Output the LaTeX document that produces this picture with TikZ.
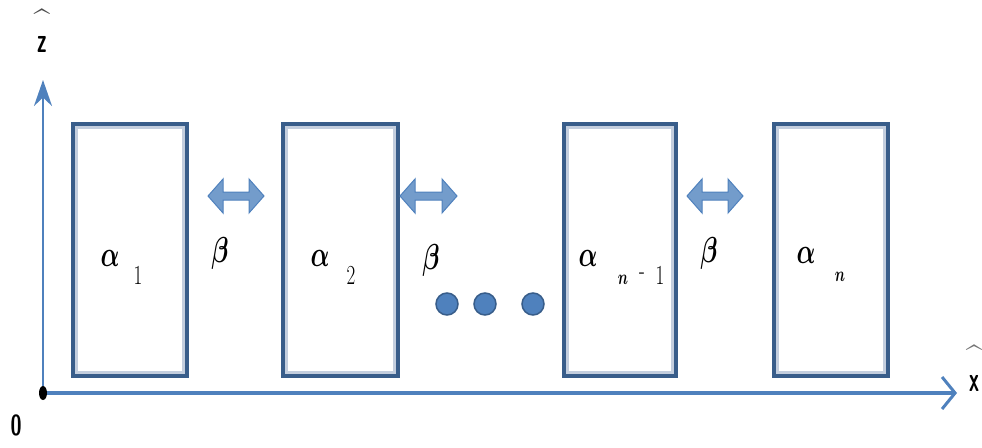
\documentclass[tikz,border=0pt]{standalone}
\usetikzlibrary{arrows.meta,shapes.geometric}
\definecolor{boxdark}{HTML}{385D8A}
\definecolor{boxlight}{HTML}{C3CEDE}
\definecolor{axisblue}{HTML}{4F81BD}
\definecolor{arrowfill}{HTML}{739CCB}
\tikzset{
  cell/.style={draw=boxdark, line width=4pt},
  cellshade/.style={draw=boxlight, line width=3pt},
  bigtxt/.style={inner sep=0pt, font=\fontsize{33}{33}\selectfont\boldmath},
  betatxt/.style={inner sep=0pt, font=\fontsize{36}{36}\selectfont\boldmath},
  subtxt/.style={inner sep=0pt, font=\fontsize{19}{19}\selectfont},
  tinytxt/.style={inner sep=0pt, font=\fontsize{14}{14}\selectfont\boldmath},
  axislbl/.style={inner sep=0pt, font=\fontsize{20}{20}\selectfont\sffamily\bfseries},
  hatlbl/.style={inner sep=0pt, font=\fontsize{16}{16}\selectfont\bfseries},
  dot/.style={circle, fill=axisblue, draw=boxdark, line width=1.5pt, minimum size=22pt, inner sep=0pt},
  dblarrow/.style={fill=arrowfill, draw=axisblue, line width=1pt, line join=miter},
}
\newcommand{\vstr}[1]{\scalebox{1}[1.45]{#1}}
\newcommand{\zstr}[1]{\scalebox{1}[1.75]{#1}}
\newcommand{\hatglyph}{\raisebox{-14pt}[9pt][0pt]{\scalebox{1.8}[2]{\textasciicircum}}}
\newcommand{\dbl}[3]{% x-left, x-right, y
  \path[dblarrow] (#1,#3) -- (#1+15,#3-17) -- (#1+15,#3-4) -- (#2-15,#3-4) -- (#2-15,#3-17) -- (#2,#3)
     -- (#2-15,#3+17) -- (#2-15,#3+4) -- (#1+15,#3+4) -- (#1+15,#3+17) -- cycle;}
\begin{document}
\begin{tikzpicture}[x=1pt,y=-1pt]
\useasboundingbox (0,0) rectangle (982,447);
% boxes
\foreach \l/\r/\n in {71/189/b1, 281/400/b2, 562/678/b3, 772/890/b4}{
  \draw[cellshade] (\l+5.5,127.5) rectangle (\r-5.5,372.5);
  \draw[cell] (\l+2,124) rectangle (\r-2,376) node[pos=0, inner sep=0pt] (\n) {};
}
% axes
\coordinate (O) at (43,393);
\coordinate (xend) at (957,393);
\coordinate (zend) at (43,80);
\draw[axisblue, line width=4pt, -{Straight Barb[length=13pt,width=32pt,line width=3pt]}] (O) -- (xend);
\draw[axisblue, line width=2.5pt, -{Stealth[length=26pt,width=18pt]}] (O) -- (zend);
\node[ellipse, fill=black, minimum width=8pt, minimum height=14pt, inner sep=0pt] (odot) at (O) {};
% axis labels
\node[axislbl] (zero) at (16,425) {\vstr{0}};
\node[hatlbl, text=black!70] (zhat) at (42,14) {\hatglyph};
\node[axislbl] (zlbl) at (42,44) {\zstr{z}};
\node[hatlbl, text=black!55] (xhat) at (974,350) {\hatglyph};
\node[axislbl] (xlbl) at (974,383) {\zstr{x}};
% double arrows
\dbl{208}{264}{196}
\dbl{400}{457}{196}
\dbl{687}{743}{196}
% beta labels
\node[betatxt] (be1) at (220,253) {\vstr{$\beta$}};
\node[betatxt] (be2) at (431,260) {\vstr{$\beta$}};
\node[betatxt] (be3) at (709,253) {\vstr{$\beta$}};
% alpha labels
\node[bigtxt] (a1) at (110,258) {\vstr{$\alpha$}};
\node[subtxt] (s1) at (138,275) {\vstr{1}};
\node[bigtxt] (a2) at (320,258) {\vstr{$\alpha$}};
\node[subtxt] (s2) at (351,275) {\vstr{2}};
\node[bigtxt] (a3) at (588,258) {\vstr{$\alpha$}};
\node[tinytxt] (s3n) at (623,280) {\vstr{$n$}};
\node[subtxt] (s3m) at (642,276) {\vstr{-}};
\node[subtxt] (s3o) at (660,275) {\vstr{1}};
\node[bigtxt] (a4) at (806,255) {\vstr{$\alpha$}};
\node[tinytxt] (s4) at (840,277) {\vstr{$n$}};
% dots
\node[dot] (d1) at (447,304) {};
\node[dot] (d2) at (485,304) {};
\node[dot] (d3) at (533,304) {};
\end{tikzpicture}
\end{document}
